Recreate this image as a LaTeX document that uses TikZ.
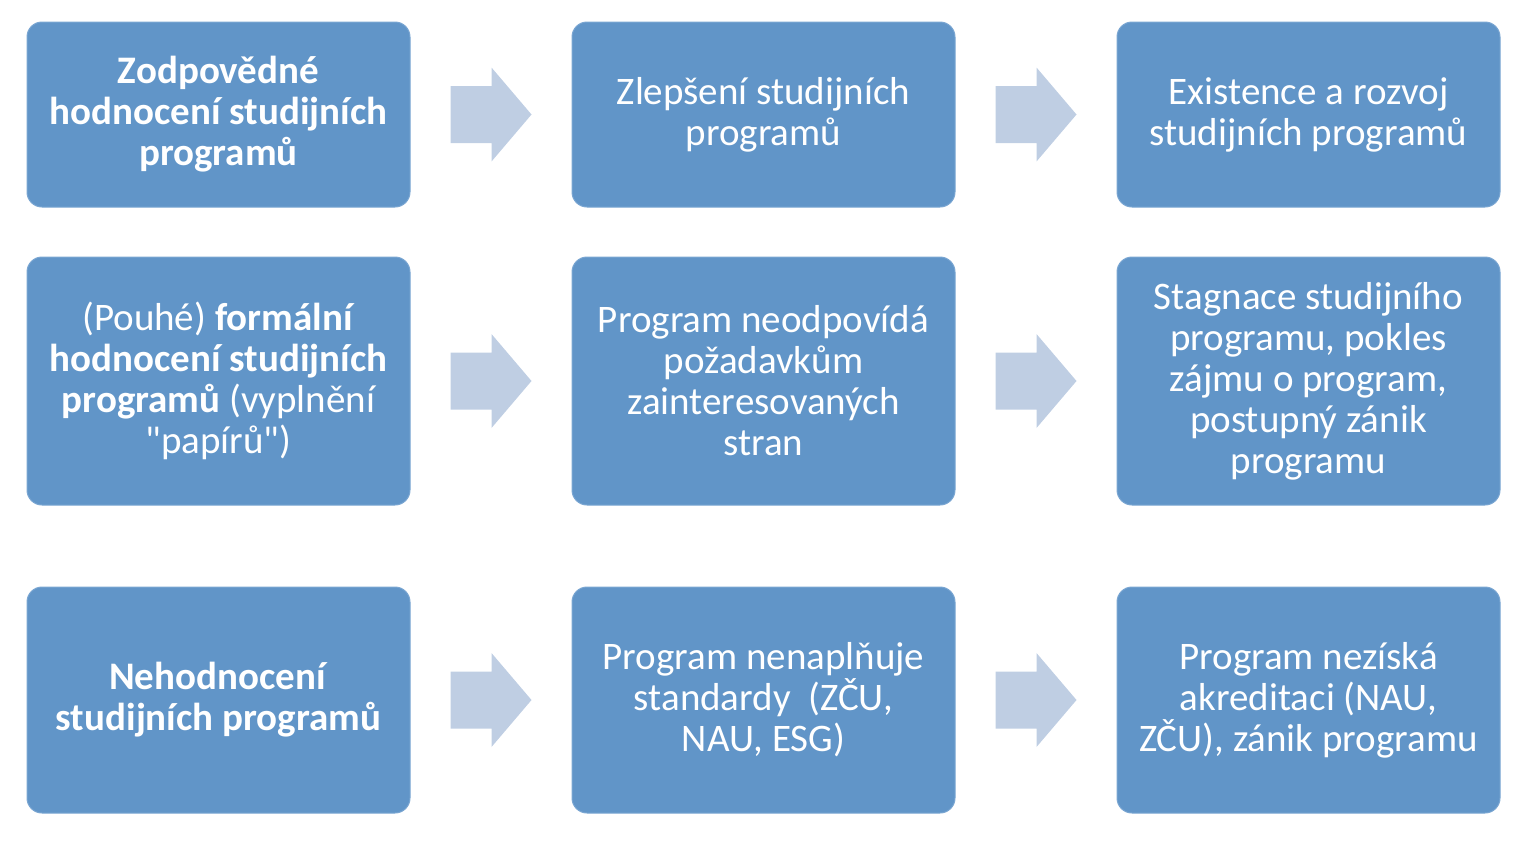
\documentclass[tikz,border=0pt]{standalone}
\usepackage{fontspec}
\setmainfont{Carlito}
\usetikzlibrary{calc}
\definecolor{boxblue}{HTML}{6195C8}
\definecolor{boxedge}{HTML}{7AA6D2}
\definecolor{arrblue}{HTML}{BFCEE3}
\tikzset{
  stagebox/.style={draw=boxedge, line width=1pt, fill=boxblue, rounded corners=15pt,
    minimum width=383pt, inner sep=0pt, align=center, text=white,
    font=\fontsize{39}{41}\selectfont},
  flowarrow/.style={fill=arrblue, draw=none}
}
\newcommand{\blockarrow}[2]{%
  \coordinate (#1) at #2;
  \fill[flowarrow] ($(#1)+(-40.5,-28.5)$) -- ($(#1)+(0.5,-28.5)$) -- ($(#1)+(0.5,-47)$)
    -- ($(#1)+(40.5,0)$) -- ($(#1)+(0.5,47)$) -- ($(#1)+(0.5,28.5)$)
    -- ($(#1)+(-40.5,28.5)$) -- cycle;}
\begin{document}
\begin{tikzpicture}[x=1pt,y=-1pt]
\useasboundingbox (0,0) rectangle (1538,844);
% row 1
\node[stagebox, minimum height=185pt] (a1) at (218.5,114.5)
  {\textbf{Zodpovědné}\\\textbf{hodnocení studijních}\\\textbf{programů}};
\node[stagebox, minimum height=185pt] (a2) at (763.5,114.5)
  {Zlepšení studijních\\programů};
\node[stagebox, minimum height=185pt] (a3) at (1308.5,114.5)
  {Existence a rozvoj\\studijních programů};
% row 2
\node[stagebox, minimum height=248pt] (b1) at (218.5,381)
  {(Pouhé) \textbf{formální}\\\textbf{hodnocení studijních}\\\textbf{programů} (vyplnění\\\textquotedbl papírů\textquotedbl)};
\node[stagebox, minimum height=248pt] (b2) at (763.5,381)
  {Program neodpovídá\\požadavkům\\zainteresovaných\\stran};
\node[stagebox, minimum height=248pt] (b3) at (1308.5,381)
  {Stagnace studijního\\programu, pokles\\zájmu o program,\\postupný zánik\\programu};
% row 3
\node[stagebox, minimum height=226pt] (c1) at (218.5,700)
  {\textbf{Nehodnocení}\\\textbf{studijních programů}};
\node[stagebox, minimum height=226pt] (c2) at (763.5,700)
  {Program nenaplňuje\\standardy\ \ (ZČU,\\NAU, ESG)};
\node[stagebox, minimum height=226pt] (c3) at (1308.5,700)
  {Program nezíská\\akreditaci (NAU,\\ZČU), zánik programu};
% arrows
\blockarrow{pa1}{($(a1.east)!0.5!(a2.west)$)}
\blockarrow{pa2}{($(a2.east)!0.5!(a3.west)$)}
\blockarrow{pb1}{($(b1.east)!0.5!(b2.west)$)}
\blockarrow{pb2}{($(b2.east)!0.5!(b3.west)$)}
\blockarrow{pc1}{($(c1.east)!0.5!(c2.west)$)}
\blockarrow{pc2}{($(c2.east)!0.5!(c3.west)$)}
\end{tikzpicture}
\end{document}
